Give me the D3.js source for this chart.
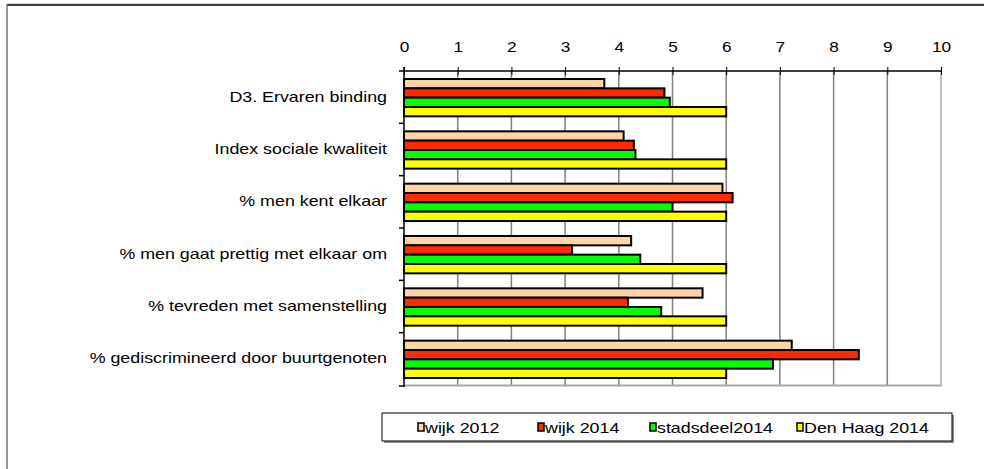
<!DOCTYPE html>
<html>
<head>
<meta charset="utf-8">
<script src="https://cdn.jsdelivr.net/npm/d3@7"></script>
<style>
  body { margin: 0; background: #fff; }
  text { font-family: "Liberation Sans", Arial, sans-serif; fill: #000; }
</style>
</head>
<body>
<svg width="984" height="469"></svg>
<script>
var categories = [
  "D3. Ervaren binding",
  "Index sociale kwaliteit",
  "% men kent elkaar",
  "% men gaat prettig met elkaar om",
  "% tevreden met samenstelling",
  "% gediscrimineerd door buurtgenoten"
];
var seriesNames = ["wijk 2012", "wijk 2014", "stadsdeel2014", "Den Haag 2014"];
var seriesColors = ["#ffd5a8", "#ff2a00", "#00ff00", "#ffff00"];
var wijk2012 = [3.73, 4.09, 5.93, 4.23, 5.56, 7.22];
var wijk2014 = [4.85, 4.28, 6.12, 3.13, 4.17, 8.47];
var stadsdeel2014 = [4.95, 4.31, 5.0, 4.40, 4.79, 6.87];
var denHaag2014 = [6.0, 6.0, 6.0, 6.0, 6.0, 6.0];
var xTicks = [0, 1, 2, 3, 4, 5, 6, 7, 8, 9, 10];

var seriesValues = [wijk2012, wijk2014, stadsdeel2014, denHaag2014];

var svg = d3.select("svg"),
    plotLeft = 404, plotRight = 941, plotTop = 71, plotBottom = 385,
    stretch = 1.23; // the original text is a bit wide

// outer frame (partly cut off by the picture)
svg.append("line").attr("x1", 7).attr("x2", 984).attr("y1", 3.5).attr("y2", 3.5)
  .attr("stroke", "#d0d0d0").attr("stroke-width", 1);
svg.append("line").attr("x1", 7).attr("x2", 984).attr("y1", 5).attr("y2", 5)
  .attr("stroke", "#000").attr("stroke-width", 1.5);
svg.append("line").attr("x1", 7).attr("x2", 7).attr("y1", 4).attr("y2", 469)
  .attr("stroke", "#707070").attr("stroke-width", 1.5);

var x = d3.scaleLinear().domain([0, 10]).range([plotLeft, plotRight]);

var y = d3.scaleBand()
    .domain(categories)
    .range([plotTop, plotBottom]);

var ySeries = d3.scaleBand()
    .domain(d3.range(seriesNames.length))
    .range([8, y.bandwidth() - 7]);

// gridlines
svg.append("g").selectAll("line")
  .data(xTicks.slice(1))
  .enter().append("line")
    .attr("x1", function(d) { return x(d); })
    .attr("x2", function(d) { return x(d); })
    .attr("y1", plotTop)
    .attr("y2", plotBottom)
    .attr("stroke", function(d) { return d == 10 ? "#a8a8a8" : "#808080"; })
    .attr("stroke-width", 1.5);

// plot bottom border
svg.append("line").attr("x1", plotLeft).attr("x2", plotRight + 0.75)
  .attr("y1", plotBottom + 0.5).attr("y2", plotBottom + 0.5)
  .attr("stroke", "#a8a8a8").attr("stroke-width", 2);

// bars
var groups = svg.append("g").selectAll("g")
  .data(seriesValues)
  .enter().append("g")
    .attr("fill", function(d, i) { return seriesColors[i]; });

groups.each(function(vals, si) {
  d3.select(this).selectAll("rect")
    .data(vals)
    .enter().append("rect")
      .attr("x", x(0))
      .attr("y", function(d, ci) { return y(categories[ci]) + ySeries(si); })
      .attr("width", function(d) { return x(d) - x(0); })
      .attr("height", ySeries.bandwidth())
      .attr("stroke", "#000")
      .attr("stroke-width", 2);
});

// top axis
var xAxis = d3.axisTop(x).tickValues(xTicks).tickSize(4).tickPadding(15);
var gx = svg.append("g")
  .attr("transform", "translate(0," + plotTop + ")")
  .call(xAxis);
gx.select(".domain").attr("stroke", "#000").attr("stroke-width", 1.5)
  .attr("d", "M" + (plotLeft - 5) + ",0H" + plotRight);
gx.selectAll(".tick line").attr("y2", 4).attr("y1", -4).attr("stroke", "#000");
gx.selectAll(".tick text")
  .attr("font-size", 15)
  .attr("font-family", "Liberation Sans, Arial, sans-serif")
  .attr("transform", "scale(1.15,1)");

// left axis
var yAxis = d3.axisLeft(y).tickSize(0).tickPadding(0);
var gy = svg.append("g")
  .attr("transform", "translate(" + plotLeft + ",0)")
  .call(yAxis);
gy.select(".domain").attr("stroke", "#000").attr("stroke-width", 1.5)
  .attr("d", "M0," + (plotTop - 4) + "V" + (plotBottom + 2));
gy.selectAll(".tick text")
  .attr("x", 0)
  .attr("font-size", 14.5)
  .attr("font-family", "Liberation Sans, Arial, sans-serif")
  .attr("transform", "translate(-17,0) scale(" + stretch + ",1)");

// category separators on the y axis
svg.append("g").selectAll("line")
  .data(categories.slice(1).concat(["end"]))
  .enter().append("line")
    .attr("x1", plotLeft - 5)
    .attr("x2", plotLeft)
    .attr("y1", function(d, i) { return i < categories.length - 1 ? y(d) : plotBottom + 1; })
    .attr("y2", function(d, i) { return i < categories.length - 1 ? y(d) : plotBottom + 1; })
    .attr("stroke", "#000")
    .attr("stroke-width", 1.5);

// legend
var legend = svg.append("g");
legend.append("rect")
  .attr("x", 384).attr("y", 415).attr("width", 570).attr("height", 28)
  .attr("fill", "#909090");
legend.append("rect")
  .attr("x", 382).attr("y", 413).attr("width", 570).attr("height", 28)
  .attr("fill", "#fff").attr("stroke", "#000").attr("stroke-width", 1);

var legendX = [418, 538, 650, 797];
var items = legend.selectAll(".item")
  .data(seriesNames)
  .enter().append("g")
    .attr("class", "item")
    .attr("transform", function(d, i) { return "translate(" + legendX[i] + ",428)"; });
items.append("rect")
  .attr("x", 0).attr("y", -5).attr("width", 6).attr("height", 8)
  .attr("fill", function(d, i) { return seriesColors[i]; })
  .attr("stroke", "#000").attr("stroke-width", 1.5);
items.append("text")
  .attr("transform", "translate(7,5) scale(" + stretch + ",1)")
  .attr("font-size", 14.5)
  .text(function(d) { return d; });
</script>
</body>
</html>
